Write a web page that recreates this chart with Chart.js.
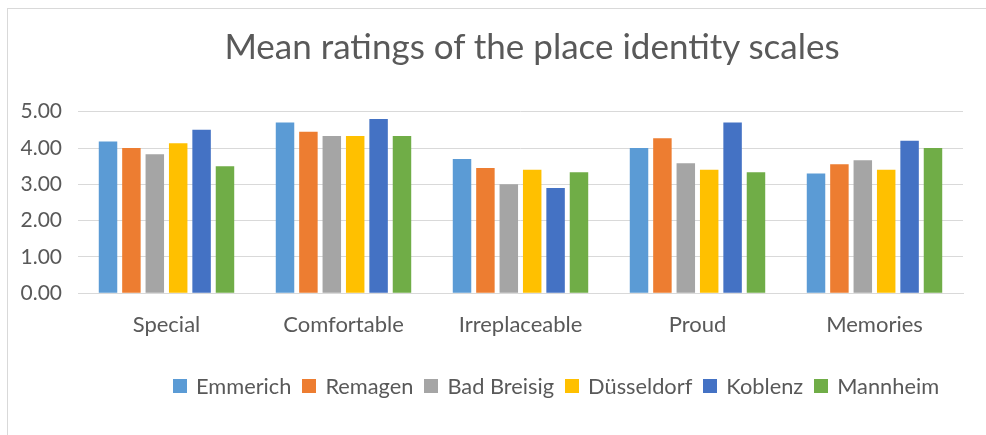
<!DOCTYPE html>
<html lang="en">
<head>
    <meta charset="UTF-8">
    <title>Mean ratings of the place identity scales</title>
    <script src="https://cdn.jsdelivr.net/npm/chart.js"></script>
    <style>
        body { margin: 0; background: #fff; font-family: Lato, sans-serif; color: #595959; }
        #wrap { position: relative; width: 986px; height: 435px; overflow: hidden; }
        #frame { position: absolute; left: 7px; top: 8px; width: 990px; height: 440px; border: 1px solid #d9d9d9; box-sizing: border-box; }
        #title { position: absolute; top: 23px; left: 0; width: 1064px; text-align: center; font-size: 35px; line-height: 44px; }
        #legend { position: absolute; top: 372px; left: 173px; display: flex; align-items: center; font-size: 21.8px; line-height: 28px; }
        #legend span.item { display: flex; align-items: center; margin-right: 11px; }
        #legend i { display: inline-block; width: 14px; height: 14px; margin-right: 9px; }
        canvas { position: absolute; left: 0; top: 0; }
    </style>
</head>
<body>
    <div id="wrap">
        <div id="frame"></div>
        <canvas id="ratingsChart" width="986" height="435"></canvas>
        <div id="title">Mean ratings of the place identity scales</div>
        <div id="legend"></div>
    </div>

    <script>
        // Scale categories and mean rating per town
        const categories = ['Special', 'Comfortable', 'Irreplaceable', 'Proud', 'Memories'];
        const emmerich    = [4.18, 4.70, 3.70, 4.00, 3.30];
        const remagen     = [4.00, 4.45, 3.45, 4.27, 3.55];
        const badBreisig  = [3.83, 4.33, 3.00, 3.58, 3.66];
        const duesseldorf = [4.13, 4.33, 3.40, 3.40, 3.40];
        const koblenz     = [4.50, 4.80, 2.90, 4.70, 4.20];
        const mannheim    = [3.50, 4.33, 3.33, 3.33, 4.00];
        const yTicks = [0, 1, 2, 3, 4, 5];

        const series = [
            { label: 'Emmerich', data: emmerich, color: '#5b9bd5' },
            { label: 'Remagen', data: remagen, color: '#ed7d31' },
            { label: 'Bad Breisig', data: badBreisig, color: '#a5a5a5' },
            { label: 'Düsseldorf', data: duesseldorf, color: '#ffc000' },
            { label: 'Koblenz', data: koblenz, color: '#4472c4' },
            { label: 'Mannheim', data: mannheim, color: '#70ad47' }
        ];

        const ctx = document.getElementById('ratingsChart').getContext('2d');
        new Chart(ctx, {
            type: 'bar',
            data: {
                labels: categories,
                datasets: series.map(s => ({
                    label: s.label,
                    data: s.data,
                    backgroundColor: s.color,
                    categoryPercentage: 0.793,
                    barPercentage: 0.79
                }))
            },
            options: {
                responsive: false,
                animation: false,
                layout: { padding: { top: 111.7, right: 23, bottom: 91.7, left: 0 } },
                plugins: {
                    legend: { display: false },
                    title: { display: false },
                    tooltip: { enabled: false }
                },
                scales: {
                    x: {
                        grid: { display: false, drawTicks: false },
                        border: { color: '#d9d9d9', width: 1 },
                        ticks: { color: '#595959', padding: 18, font: { family: 'Lato', size: 22 } },
                        afterFit(scale) { scale.height = 50; }
                    },
                    y: {
                        min: yTicks[0],
                        max: yTicks[yTicks.length - 1],
                        afterBuildTicks(scale) { scale.ticks = yTicks.map(v => ({ value: v })); },
                        grid: { color: '#d9d9d9', drawTicks: false },
                        border: { display: false },
                        ticks: {
                            color: '#595959',
                            padding: 16,
                            font: { family: 'Lato', size: 21 },
                            callback: v => v.toFixed(2)
                        },
                        afterFit(scale) { scale.width = 78; }
                    }
                }
            }
        });

        // Legend row under the plot
        const legend = document.getElementById('legend');
        series.forEach(s => {
            const item = document.createElement('span');
            item.className = 'item';
            item.innerHTML = '<i style="background:' + s.color + '"></i>' + s.label;
            legend.appendChild(item);
        });
    </script>
</body>
</html>
